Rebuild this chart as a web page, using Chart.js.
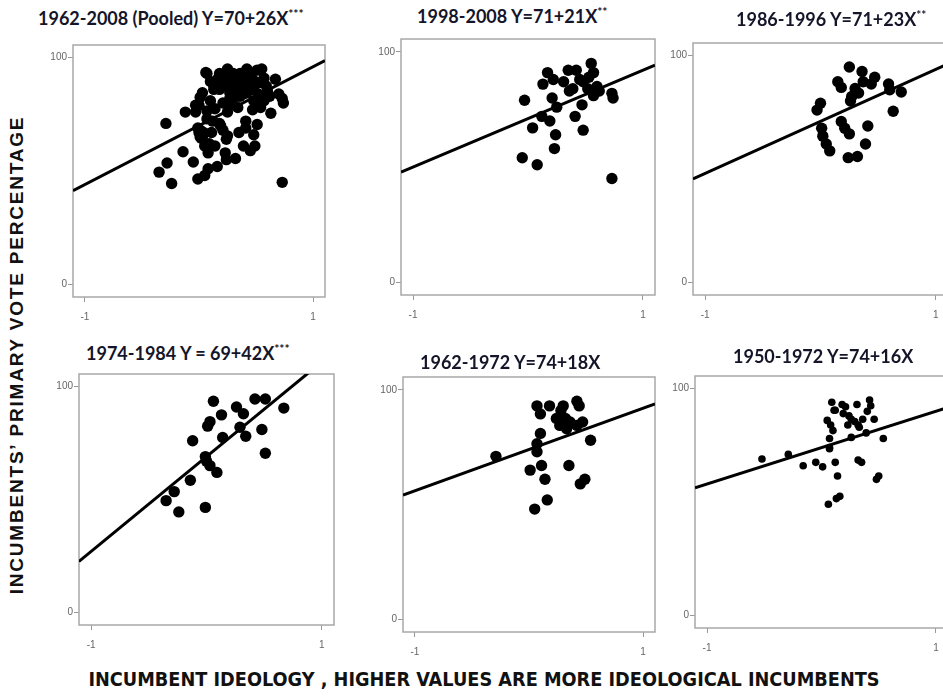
<!DOCTYPE html>
<html>
<head>
<meta charset="utf-8">
<script src="https://cdn.jsdelivr.net/npm/chart.js@4.4.1/dist/chart.umd.min.js"></script>
<style>
body{margin:0;width:943px;height:698px;overflow:hidden;background:#fff;position:relative}
canvas{position:absolute}
.title{position:absolute;font-family:Lato,"DejaVu Sans Condensed",sans-serif;font-weight:bold;font-size:18px;color:#15152a;white-space:nowrap;line-height:20px;transform:translateY(-50%)}
.title span{font-size:12px;vertical-align:top;line-height:12px}
.axisTitle{position:absolute;font-weight:bold;color:#111;white-space:nowrap;line-height:20px}
#xTitle{left:484px;top:680px;transform:translate(-50%,-50%);font-family:"DejaVu Sans Condensed",sans-serif;font-size:19.7px}
#yTitle{left:17px;top:355px;transform:translate(-50%,-50%) rotate(-90deg);font-family:"Liberation Sans",Arial,sans-serif;font-size:19px;letter-spacing:1.8px}
</style>
</head>
<body>
<div id="xTitle" class="axisTitle">INCUMBENT IDEOLOGY , HIGHER VALUES ARE MORE IDEOLOGICAL INCUMBENTS</div>
<div id="yTitle" class="axisTitle">INCUMBENTS’ PRIMARY VOTE PERCENTAGE</div>
<script>
/*
    6개 산점도 : 현직자 이념(x) vs 예비선거 득표율(y)
    pooled 패널 = 1998, 1986, 1974, 1962 구간을 합친 것
*/

// 1998-2008
const x1998 = [-0.05, 0.08, 0.04, -0.03, 0.12, 0.19, 0.24, 0.23, 0.25, 0.21, 0.13, 0.17, 0.22, 0.31, 0.35, 0.42, 0.39, 0.47, 0.41, 0.48, 0.55, 0.57, 0.48, 0.60, 0.57, 0.73, 0.74, 0.73, 0.52, 0.36, 0.62, 0.45, 0.53];
const y1998 = [54, 51, 67, 79, 72, 70, 64, 58, 76, 80, 86, 91, 88, 87, 92, 92, 84, 77, 72, 66, 95, 91, 87, 85, 81, 82, 80, 45, 84, 83, 83, 88, 89];
// 1986-1996
const x1986 = [0.25, 0.15, 0.18, 0.36, 0.47, 0.44, 0.37, 0.30, 0.27, 0.33, 0.26, 0.59, 0.60, 0.70, 0.63, 0.00, -0.03, 0.01, 0.02, 0.05, 0.08, 0.18, 0.21, 0.25, 0.41, 0.39, 0.24, 0.32];
const y1986 = [95, 88.5, 86, 93, 90.5, 87.5, 88.5, 85.5, 82, 83.5, 80, 87.5, 85, 84, 75.5, 79, 76, 68, 64.5, 61, 58, 71, 68, 65.5, 69, 61, 55, 55.5];
// 1974-1984
const x1974 = [0.06, 0.13, 0.03, 0.01, -0.12, 0.14, 0.26, 0.32, 0.29, 0.34, 0.42, 0.51, 0.67, 0.48, 0.51, -0.01, 0.03, 0.09, -0.14, -0.28, -0.35, -0.24, -0.01, 0.00];
const y1974 = [93.5, 87.5, 84.5, 82.5, 76, 77.5, 91, 88, 82, 78, 94.5, 94.5, 90.5, 81, 70.5, 69, 65, 62, 58.5, 53.5, 49.5, 44.5, 46.5, 67];
// 1962-1972
const x1962 = [0.07, 0.10, 0.18, 0.30, 0.42, 0.44, 0.24, 0.27, 0.32, 0.36, 0.47, 0.42, 0.33, 0.54, 0.10, 0.07, 0.07, -0.29, 0.01, 0.11, 0.14, 0.35, 0.45, 0.49, 0.16, 0.05, 0.28];
const y1962 = [93, 89.5, 93, 93, 95, 93, 87.5, 84.5, 87.5, 86, 86, 84.5, 83, 78, 81, 76.5, 73, 71, 65, 67, 61, 67, 59, 61, 52, 48, 91];
// 1950-1972
const x1950 = [-0.52, -0.29, -0.16, -0.05, 0.01, 0.07, 0.07, 0.12, 0.14, 0.06, 0.13, 0.16, 0.32, 0.35, 0.48, 0.50, 0.54, 0.39, 0.26, 0.09, 0.11, 0.05, 0.08, 0.10, 0.18, 0.21, 0.24, 0.26, 0.31, 0.29, 0.32, 0.36, 0.40, 0.42, 0.43, 0.46, 0.23, 0.07, 0.33, 0.12, 0.19];
const y1950 = [69, 71, 66, 67.5, 65.5, 74, 78, 67.5, 61.5, 49, 51.5, 52.5, 68.5, 67.5, 60, 61.5, 78, 80.5, 78.5, 94, 90.5, 86, 84, 81.5, 93, 92, 88, 86.5, 93, 85.5, 84, 86.5, 90, 95, 92.5, 86.5, 84, 73.5, 83, 90.5, 89];

// pooled = 1962~2008
const xPooled = x1998.concat(x1986, x1974, x1962);
const yPooled = y1998.concat(y1986, y1974, y1962);

// 회귀선 (박스 양 끝에서 읽은 값)
const lineX = [-1.105, 1.105];
const lineYPooled = [41.3, 98.7];
const lineY1998 = [47.8, 94.2];
const lineY1986 = [45.6, 96.4];
const lineY1974 = [22.6, 115.4];
const lineY1962 = [54.1, 93.9];
const lineY1950 = [56.3, 91.7];

const xTicks = [-1, 1];
const yTicks = [0, 100];

const titles = ["1962-2008 (Pooled) Y=70+26X", "1998-2008  Y=71+21X", "1986-1996  Y=71+23X", "1974-1984  Y = 69+42X", "1962-1972 Y=74+18X", "1950-1972  Y=74+16X"];
const stars = ["***", "**", "**", "***", "", ""];

// 패널 위치 : 박스 [left, top, right, bottom], 제목 [left, 중심 y]
const panels = [
    {xs: xPooled, ys: yPooled, line: lineYPooled, box: [73, 44, 325, 297], title: [38, 18], r: 5.7},
    {xs: x1998, ys: y1998, line: lineY1998, box: [401, 38, 655, 295], title: [417, 16], r: 5.7},
    {xs: x1986, ys: y1986, line: lineY1986, box: [693, 42, 948, 295], title: [736, 19], r: 5.7},
    {xs: x1974, ys: y1974, line: lineY1974, box: [79, 373, 334, 625], title: [86, 353], r: 5.7},
    {xs: x1962, ys: y1962, line: lineY1962, box: [403, 376, 655, 632], title: [420, 362], r: 5.7},
    {xs: x1950, ys: y1950, line: lineY1950, box: [695, 375, 948, 628], title: [733, 356], r: 3.8}
];

const Y_AXIS_W = 40, X_AXIS_H = 30, PAD = 6;

const frame = { // 회색 테두리 박스
    id: 'frame',
    beforeDatasetsDraw(chart){
        const a = chart.chartArea, c = chart.ctx;
        c.save();
        c.strokeStyle = '#a8a8a8';
        c.lineWidth = 1.5;
        c.strokeRect(a.left, a.top, a.right - a.left, a.bottom - a.top);
        c.restore();
    }
};

function drawPanel(p, i){
    const [l, t, r, b] = p.box;
    const cv = document.createElement("canvas");
    cv.width = (r - l) + Y_AXIS_W + PAD;
    cv.height = (b - t) + PAD + X_AXIS_H;
    cv.style.left = (l - Y_AXIS_W) + "px";
    cv.style.top = (t - PAD) + "px";
    document.body.appendChild(cv);

    const tt = document.createElement("div");
    tt.className = "title";
    tt.style.left = p.title[0] + "px";
    tt.style.top = p.title[1] + "px";
    tt.innerHTML = titles[i] + (stars[i] ? "<span>" + stars[i] + "</span>" : "");
    document.body.appendChild(tt);

    const tickFont = {family: "'Liberation Sans', Arial, sans-serif", size: 10};
    new Chart(cv, {
        type: 'scatter',
        data: {
            datasets: [
                {
                    data: p.xs.map((x, k) => ({x: x, y: p.ys[k]})),
                    pointRadius: p.r,
                    pointBackgroundColor: '#000',
                    pointBorderWidth: 0
                },
                {
                    data: lineX.map((x, k) => ({x: x, y: p.line[k]})),
                    showLine: true,
                    borderColor: '#000',
                    borderWidth: 3,
                    pointRadius: 0
                }
            ]
        },
        options: {
            responsive: false,
            animation: false,
            events: [],
            layout: {padding: {top: PAD, right: PAD, left: 0, bottom: 0}},
            plugins: {legend: {display: false}, tooltip: {enabled: false}},
            scales: {
                x: {
                    type: 'linear', min: -1.105, max: 1.105,
                    afterBuildTicks: s => { s.ticks = xTicks.map(v => ({value: v})); },
                    afterFit: s => { s.height = X_AXIS_H; },
                    ticks: {font: tickFont, color: '#666', padding: 9, maxRotation: 0},
                    grid: {drawOnChartArea: false, tickLength: 5, color: '#999'},
                    border: {display: false}
                },
                y: {
                    type: 'linear', min: -5.6, max: 105.6,
                    afterBuildTicks: s => { s.ticks = yTicks.map(v => ({value: v})); },
                    afterFit: s => { s.width = Y_AXIS_W; },
                    ticks: {font: tickFont, color: '#666', padding: 1},
                    grid: {drawOnChartArea: false, tickLength: 5, color: '#999'},
                    border: {display: false}
                }
            }
        },
        plugins: [frame]
    });
}

panels.forEach(drawPanel);
</script>
</body>
</html>
